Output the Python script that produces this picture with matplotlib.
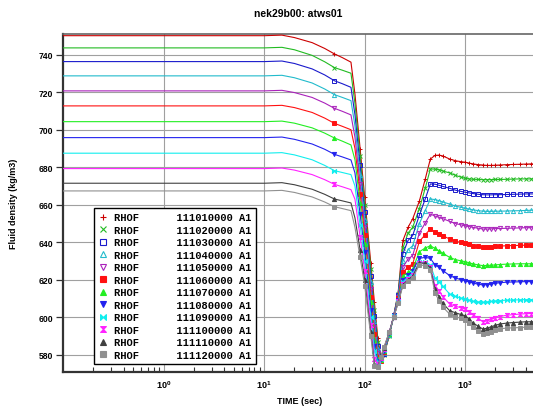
import math
import matplotlib
matplotlib.use("Agg")
import matplotlib.pyplot as plt
from matplotlib.lines import Line2D
from matplotlib.font_manager import FontProperties
from matplotlib.ticker import FixedLocator, LogLocator, FuncFormatter, NullFormatter

plt.rcParams['font.family'] = ['Liberation Sans', 'DejaVu Sans']
plt.rcParams['font.weight'] = 'bold'
plt.rcParams['mathtext.fontset'] = 'custom'
plt.rcParams['mathtext.rm'] = 'Liberation Sans'
plt.rcParams['mathtext.bf'] = 'Liberation Sans:bold'

title = "nek29b00: atws01"
xlabel = "TIME (sec)"
ylabel = "Fluid density (kg/m3)"

time_s = [0.1, 10, 15, 20, 30, 40, 50, 60, 73, 80, 90, 100, 115, 125, 135, 145, 155, 175, 195, 215,
          240, 270, 300, 350, 400, 450, 500, 550, 600, 700, 800, 900, 1000, 1100, 1200, 1350, 1500,
          1650, 1800, 2000, 2200, 2600, 3000, 3500, 4000, 4500, 5000]

labels = ["RHOF      111010000 A1", "RHOF      111020000 A1", "RHOF      111030000 A1",
          "RHOF      111040000 A1", "RHOF      111050000 A1", "RHOF      111060000 A1",
          "RHOF      111070000 A1", "RHOF      111080000 A1", "RHOF      111090000 A1",
          "RHOF      111100000 A1", "RHOF      111110000 A1", "RHOF      111120000 A1"]

rhof_111010000 = [750.1, 750.1, 750.4, 749.1, 746.4, 743.3, 740.4, 738.4, 736.0, 719, 690, 664, 629, 608, 589, 579, 580, 590, 601.5, 613,
                  641, 648, 652.5, 662, 673.7, 684.4, 686.3, 686.5, 686.0, 684.4, 683.5, 683.0, 682.7, 682.2, 681.8, 681.4, 681.2,
                  681.0, 681.0, 681.1, 681.2, 681.4, 681.5, 681.6, 681.7, 681.8, 681.8]
rhof_111020000 = [743.6, 743.6, 743.9, 742.6, 739.6, 736.2, 733.1, 731.7, 730.1, 714, 686, 660, 626, 604, 587, 578.5, 580, 590, 601.3, 612.5,
                  637, 645, 648, 658, 668.8, 679.1, 679.0, 678.7, 678.0, 677.0, 675.7, 674.8, 674.1, 673.8, 673.6, 673.5, 673.4,
                  673.4, 673.4, 673.5, 673.5, 673.6, 673.7, 673.8, 673.8, 673.8, 673.8]
rhof_111030000 = [736.3, 736.3, 736.6, 735.3, 732.4, 729.2, 726.1, 724.5, 722.6, 708, 681, 656, 622, 601, 585, 578, 580.5, 590.5, 601.2, 612,
                  634, 641, 643.6, 654.5, 663.1, 671.1, 671.0, 670.4, 669.8, 668.8, 667.8, 667.2, 666.7, 666.3, 666.0, 665.6, 665.4,
                  665.3, 665.3, 665.4, 665.4, 665.5, 665.6, 665.7, 665.8, 665.8, 665.8]
rhof_111040000 = [728.7, 728.7, 729.0, 727.7, 724.9, 721.7, 718.7, 717.2, 715.5, 702, 676, 652, 619, 598, 583, 577.5, 581, 590.5, 601, 611.5,
                  630, 636, 638.2, 650, 656.9, 663.1, 662.8, 662.2, 661.5, 660.4, 659.3, 658.7, 658.2, 657.7, 657.3, 656.9, 656.6,
                  656.5, 656.5, 656.6, 656.6, 656.7, 656.8, 656.9, 657.0, 657.1, 657.2]
rhof_111050000 = [720.7, 720.7, 721.0, 719.8, 717.2, 714.2, 711.4, 709.8, 707.9, 696, 671, 648, 615, 595, 581, 577, 581, 591, 601, 611,
                  627, 631, 633, 645, 650.3, 655.1, 654.0, 653.4, 652.6, 651.2, 650.0, 649.4, 648.9, 648.4, 648.0, 647.5, 647.1,
                  647.1, 647.2, 647.3, 647.4, 647.5, 647.6, 647.7, 647.8, 647.8, 647.8]
rhof_111060000 = [712.7, 712.7, 713.0, 711.8, 709.2, 706.2, 703.4, 701.8, 700.0, 690, 666, 644, 611, 591, 579, 577, 581.5, 591, 601, 610.5,
                  624, 627, 628.5, 640.5, 644.1, 647.1, 645.5, 644.5, 643.5, 641.8, 640.7, 640.0, 639.5, 638.9, 638.3, 637.8, 637.4,
                  637.5, 637.6, 637.8, 638.0, 638.2, 638.3, 638.4, 638.5, 638.6, 638.6]
rhof_111070000 = [704.3, 704.3, 704.6, 703.5, 701.0, 698.2, 695.6, 693.9, 691.9, 684, 661, 639, 608, 588, 578, 577.5, 582, 591, 600.8, 610,
                  622, 624, 625.8, 635, 637.0, 638.2, 636.8, 635.5, 634.2, 632.0, 630.8, 630.2, 629.7, 629.1, 628.5, 628.0, 627.6,
                  627.7, 627.8, 628.0, 628.2, 628.4, 628.5, 628.6, 628.6, 628.6, 628.6]
rhof_111080000 = [695.8, 695.8, 696.1, 694.9, 692.4, 689.6, 686.9, 685.5, 683.9, 677, 655, 635, 604, 585, 577, 578, 582, 591.5, 600.8, 609.5,
                  620, 622.5, 624.9, 631.5, 632.0, 631.5, 628.0, 626.7, 625.0, 622.3, 621.0, 620.2, 619.6, 618.9, 618.3, 617.7, 617.3,
                  617.5, 617.8, 618.2, 618.5, 618.8, 618.9, 619.0, 619.1, 619.1, 619.1]
rhof_111090000 = [687.5, 687.5, 687.8, 686.6, 684.0, 681.0, 678.2, 677.2, 676.1, 670, 649, 630, 600, 582, 576, 578, 582.5, 591.5, 600.6, 609,
                  619, 621.5, 623.5, 629.5, 629.4, 628.0, 621.0, 619.0, 616.5, 612.5, 611.2, 610.4, 609.8, 609.2, 608.7, 608.3, 608.1,
                  608.3, 608.5, 608.8, 609.0, 609.2, 609.3, 609.4, 609.5, 609.5, 609.5]
rhof_111100000 = [679.3, 679.3, 679.6, 678.5, 676.1, 673.4, 670.9, 669.6, 668.1, 663, 643, 625, 596, 578, 575, 578.5, 583, 592, 600.5, 608.5,
                  618, 620.5, 622.5, 629, 628.9, 627.0, 617.0, 614.0, 611.0, 607.2, 606.0, 605.2, 604.5, 603.0, 601.5, 599.5, 597.7,
                  598.2, 599.0, 599.8, 600.5, 601.2, 601.5, 601.8, 602.0, 602.1, 602.2]
rhof_111110000 = [671.5, 671.5, 671.8, 670.7, 668.3, 665.6, 663.1, 662.1, 661.0, 653, 636, 620, 592, 575, 574, 579, 583.5, 592, 600.4, 608,
                  617.5, 620, 622, 629, 628.9, 626.5, 615.0, 611.0, 607.5, 603.6, 602.5, 601.6, 600.9, 599.0, 597.0, 595.3, 593.8,
                  594.3, 595.0, 595.8, 596.5, 597.0, 597.3, 597.5, 597.7, 597.7, 597.7]
rhof_111120000 = [667.4, 667.4, 667.7, 666.6, 664.2, 661.5, 659.0, 658.0, 656.9, 648, 632, 617, 590, 574, 573.5, 579, 584, 592, 600.3, 607.5,
                  617, 619.5, 621, 628, 627.6, 625.5, 613.0, 609.0, 605.5, 601.8, 600.5, 599.5, 598.8, 596.8, 594.8, 592.8, 591.2,
                  591.8, 592.5, 593.3, 594.0, 594.3, 594.5, 594.6, 594.8, 594.7, 594.7]

series = [rhof_111010000, rhof_111020000, rhof_111030000, rhof_111040000, rhof_111050000, rhof_111060000,
          rhof_111070000, rhof_111080000, rhof_111090000, rhof_111100000, rhof_111110000, rhof_111120000]

colors = ['#cc0000', '#22bb22', '#1a1acc', '#22bbcc', '#aa22bb', '#ff1111',
          '#22ee22', '#2222ee', '#11eeee', '#ff22ff', '#404040', '#909090']
bowtie = [(-1, 1), (1, -1), (1, 1), (-1, -1), (-1, 1)]
hourglass = [(-1, 1), (1, 1), (-1, -1), (1, -1), (-1, 1)]
markers = ['+', 'x', 's', '^', 'v', 's', '^', 'v', bowtie, hourglass, '^', 's']
filled = [False, False, False, False, False, True, True, True, True, True, True, True]

fig = plt.figure(figsize=(5.33, 4.10), dpi=100)
L, R, T, B = 62.7, 533.0, 35.0, 372.7
ax = fig.add_axes([L / 533, 1 - B / 410, (R - L) / 533, (B - T) / 410])

mark_idx = [6] + list(range(10, len(time_s)))
for vals, c, m, f in zip(series, colors, markers, filled):
    ax.plot(time_s, vals, color=c, lw=0.8, marker=m, markevery=mark_idx, markersize=3.0,
            markeredgewidth=0.7, markerfacecolor=(c if f else 'none'), markeredgecolor=c, zorder=3)

ax.set_xscale('log')
ax.set_xlim(0.0989, 4727)
ax.set_ylim(571.1, 751.0)

ax.xaxis.set_major_locator(FixedLocator([1, 10, 100, 1000]))
ax.xaxis.set_major_formatter(FuncFormatter(lambda v, p: r'$\mathbf{10^{%d}}$' % round(math.log10(v))))
ax.xaxis.set_minor_locator(LogLocator(base=10, subs=[2, 3, 4, 5, 6, 7, 8, 9]))
ax.xaxis.set_minor_formatter(NullFormatter())
ax.set_yticks([580, 600, 620, 640, 660, 680, 700, 720, 740])

ax.tick_params(axis='x', which='major', direction='in', length=0, labelsize=6.5, pad=5)
ax.tick_params(axis='x', which='minor', direction='in', length=3.5, width=0.8, color='#333333')
ax.tick_params(axis='y', which='major', direction='out', length=5, width=0.9, color='#333333', labelsize=6.2, pad=2)
for lab in ax.get_yticklabels():
    lab.set_fontweight('bold')

ax.grid(True, which='major', color='#a0a0a0', lw=0.8, zorder=0)
ax.set_axisbelow(True)
ax.spines['right'].set_visible(False)
ax.spines['top'].set_color('#666666')
ax.spines['top'].set_linewidth(1.2)
for s in ['left', 'bottom']:
    ax.spines[s].set_color('#333333')
    ax.spines[s].set_linewidth(1.6)

handles = [Line2D([], [], ls='none', marker=m, color=c, markersize=4.2, markeredgewidth=0.8,
                  markerfacecolor=(c if f else 'none'), markeredgecolor=c)
           for c, m, f in zip(colors, markers, filled)]
leg = fig.legend(handles, labels, loc='upper left', bbox_to_anchor=(94 / 533, 1 - 209 / 410),
                 bbox_transform=fig.transFigure, borderaxespad=0, borderpad=0.4,
                 handlelength=1.0, handletextpad=0.52, labelspacing=0.24, fancybox=False,
                 edgecolor='black', framealpha=1,
                 prop=FontProperties(family='Liberation Mono', weight='bold', size=7.5))
leg.get_frame().set_linewidth(1.0)

fig.text(297.8 / 533, 1 - 14 / 410, title, ha='center', va='center', fontsize=7.5, fontweight='bold')
fig.text(300 / 533, 1 - 402 / 410, xlabel, ha='center', va='center', fontsize=6.5, fontweight='bold')
fig.text(14 / 533, 1 - 204 / 410, ylabel, ha='center', va='center', rotation=90, fontsize=6.5, fontweight='bold')

fig.savefig('out.png', dpi=100)
